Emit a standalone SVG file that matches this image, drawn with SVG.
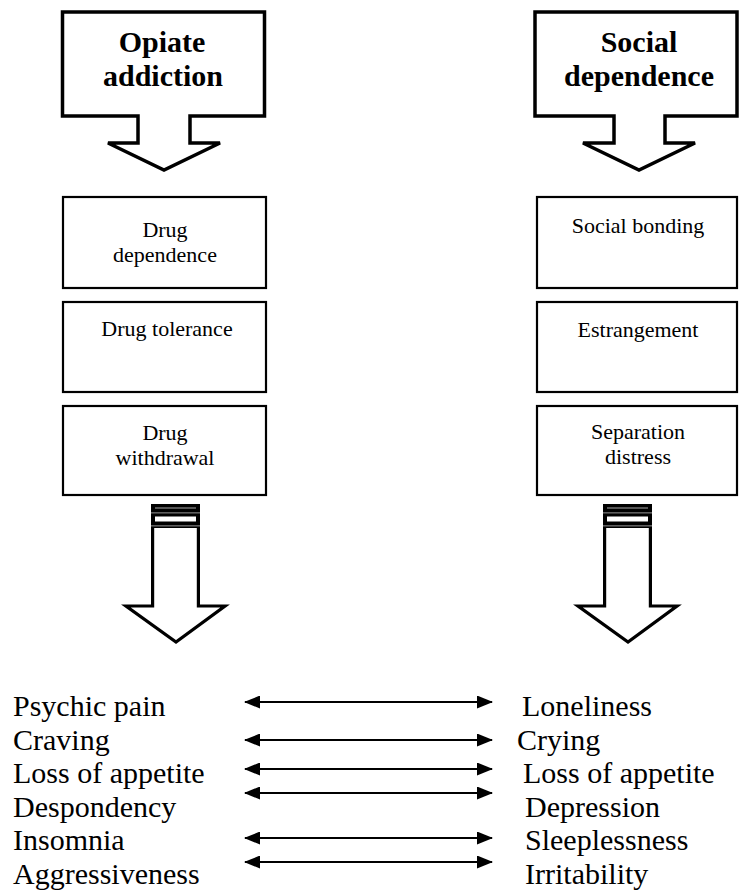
<svg xmlns="http://www.w3.org/2000/svg" width="739" height="895" viewBox="0 0 739 895">
<style>
.callout{fill:#fff;stroke:#000;stroke-width:3.5;stroke-linejoin:miter}
.box{fill:#fff;stroke:#000;stroke-width:2.2}
.big{fill:#fff;stroke:#000;stroke-width:3.2;stroke-linejoin:miter}
.ht{font-family:"Liberation Serif","Times New Roman",serif;font-weight:bold;font-size:30px;text-anchor:middle;fill:#000}
.bt{font-family:"Liberation Serif","Times New Roman",serif;font-size:22px;text-anchor:middle;fill:#000}
.st{font-family:"Liberation Serif","Times New Roman",serif;font-size:30px;fill:#000}
.conn{stroke:#000;stroke-width:1.8;fill:none;marker-start:url(#ah);marker-end:url(#ah)}
</style>
<defs>
<marker id="ah" viewBox="0 0 16 13" refX="15" refY="6.5" markerWidth="16" markerHeight="13" markerUnits="userSpaceOnUse" orient="auto-start-reverse">
<path d="M0,0 L16,6.5 L0,13 Z" fill="#000"/>
</marker>
</defs>

<g id="opiate-addiction">
<path class="callout" d="M62.5,12 H264.5 V116 H190 V143 H220 L164,170 L108,143 H138 V116 H62.5 Z"/>
<text class="ht" x="162" y="52">Opiate</text>
<text class="ht" x="163" y="86">addiction</text>
</g>

<g id="social-dependence">
<path class="callout" d="M535,12 H737 V116 H665 V143 H695 L639,170 L583,143 H614 V116 H535 Z"/>
<text class="ht" x="639" y="52">Social</text>
<text class="ht" x="639" y="86">dependence</text>
</g>

<g id="drug-dependence">
<rect class="box" x="63" y="197" width="203" height="91"/>
<text class="bt" x="165" y="237">Drug</text>
<text class="bt" x="165" y="262">dependence</text>
</g>
<g id="drug-tolerance">
<rect class="box" x="63" y="302" width="203" height="90"/>
<text class="bt" x="167" y="336">Drug tolerance</text>
</g>
<g id="drug-withdrawal">
<rect class="box" x="63" y="406" width="203" height="89"/>
<text class="bt" x="165" y="440">Drug</text>
<text class="bt" x="165" y="465">withdrawal</text>
</g>

<g id="social-bonding">
<rect class="box" x="537" y="197" width="200" height="91"/>
<text class="bt" x="638" y="233">Social bonding</text>
</g>
<g id="estrangement">
<rect class="box" x="537" y="302" width="200" height="90"/>
<text class="bt" x="638" y="337">Estrangement</text>
</g>
<g id="separation-distress">
<rect class="box" x="537" y="406" width="200" height="89"/>
<text class="bt" x="638" y="439">Separation</text>
<text class="bt" x="638" y="464">distress</text>
</g>

<g id="left-big-arrow">
<path class="big" d="M152.6,527 V606 H126 L176,642 L225,606 H198.4 V527"/>
<rect x="151" y="504" width="49" height="24" fill="#000"/>
<rect x="155" y="507.5" width="41" height="1" fill="#aaa"/>
<rect x="155" y="516.5" width="41" height="5" fill="#fff"/>
<rect x="151" y="512.5" width="49" height="0.8" fill="#bbb"/>
<rect x="151" y="525.5" width="49" height="0.8" fill="#bbb"/>
</g>

<g id="right-big-arrow">
<path class="big" d="M604.6,527 V606 H578 L628,642 L677,606 H650.4 V527"/>
<rect x="603" y="504" width="49" height="24" fill="#000"/>
<rect x="607" y="507.5" width="41" height="1" fill="#aaa"/>
<rect x="607" y="516.5" width="41" height="5" fill="#fff"/>
<rect x="603" y="512.5" width="49" height="0.8" fill="#bbb"/>
<rect x="603" y="525.5" width="49" height="0.8" fill="#bbb"/>
</g>

<g id="left-symptoms">
<text class="st" x="13" y="716">Psychic pain</text>
<text class="st" x="13" y="750">Craving</text>
<text class="st" x="13" y="783">Loss of appetite</text>
<text class="st" x="13" y="817">Despondency</text>
<text class="st" x="13" y="850">Insomnia</text>
<text class="st" x="13" y="884">Aggressiveness</text>
</g>

<g id="right-symptoms">
<text class="st" x="522" y="716">Loneliness</text>
<text class="st" x="517" y="750">Crying</text>
<text class="st" x="523" y="783">Loss of appetite</text>
<text class="st" x="525" y="817">Depression</text>
<text class="st" x="525" y="850">Sleeplessness</text>
<text class="st" x="525" y="884">Irritability</text>
</g>

<g id="connectors">
<line class="conn" x1="245" y1="702" x2="492" y2="702"/>
<line class="conn" x1="245" y1="740" x2="492" y2="740"/>
<line class="conn" x1="245" y1="769" x2="492" y2="769"/>
<line class="conn" x1="245" y1="793" x2="492" y2="793"/>
<line class="conn" x1="245" y1="838" x2="492" y2="838"/>
<line class="conn" x1="245" y1="862" x2="492" y2="862"/>
</g>
</svg>
